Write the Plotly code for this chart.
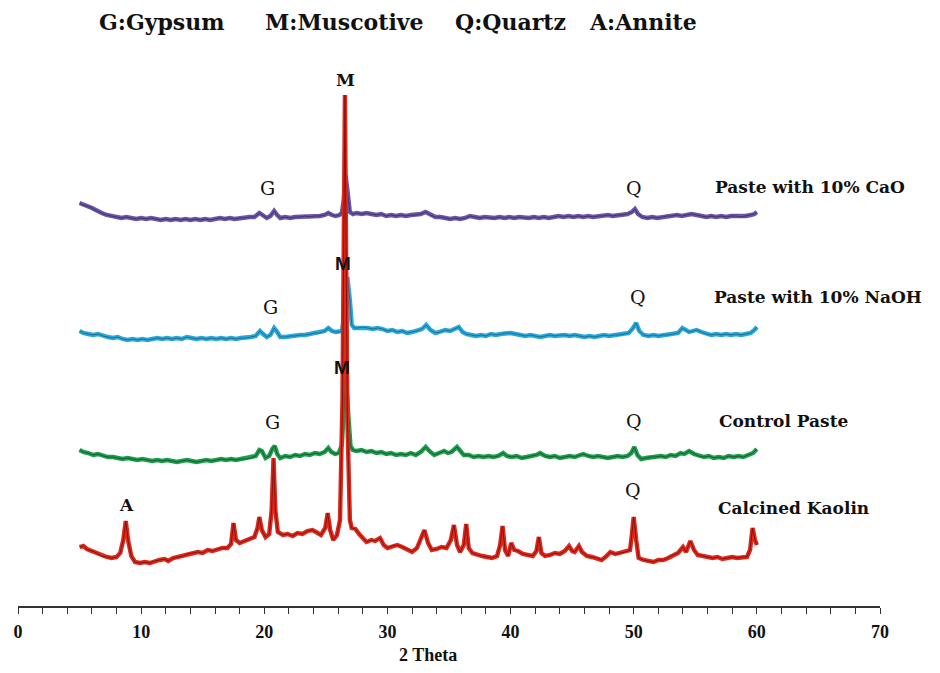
import plotly.graph_objects as go

# ---------------- data ----------------
two_theta_kaolin = [5.0, 5.3, 5.6, 6.0, 6.4, 6.8, 7.2, 7.6, 8.0, 8.3, 8.55, 8.75, 8.95, 9.2, 9.5, 9.9, 10.3, 10.7, 11.1, 11.5,
                    11.9, 12.2, 12.6, 13.0, 13.4, 13.8, 14.2, 14.6, 15.0, 15.4, 15.8, 16.2, 16.6, 17.0, 17.3, 17.5, 17.7, 18.0,
                    18.4, 18.8, 19.2, 19.45, 19.6, 19.8, 20.1, 20.4, 20.6, 20.75, 20.9, 21.1, 21.5, 21.9, 22.3, 22.7, 23.1,
                    23.5, 23.9, 24.2, 24.6, 24.95, 25.15, 25.35, 25.6, 25.9, 26.15, 26.35, 26.55, 26.75, 26.95, 27.1, 27.4,
                    27.7, 28.0, 28.3, 28.7, 29.0, 29.4, 29.7, 30.0, 30.4, 30.8, 31.2, 31.6, 32.0, 32.4, 32.75, 33.0, 33.3,
                    33.6, 34.0, 34.4, 34.8, 35.15, 35.4, 35.65, 35.9, 36.2, 36.4, 36.6, 36.9, 37.3, 37.7, 38.1, 38.5, 38.9,
                    39.15, 39.35, 39.55, 39.8, 40.05, 40.3, 40.6, 41.0, 41.4, 41.8, 42.1, 42.3, 42.5, 42.8, 43.2, 43.6, 44.0,
                    44.4, 44.75, 45.0, 45.2, 45.55, 45.8, 46.2, 46.6, 47.0, 47.4, 47.8, 48.1, 48.5, 48.9, 49.3, 49.7, 49.85,
                    50.0, 50.2, 50.4, 50.8, 51.2, 51.6, 52.0, 52.4, 52.8, 53.2, 53.6, 54.0, 54.25, 54.6, 54.9, 55.2, 55.6,
                    56.0, 56.4, 56.8, 57.2, 57.6, 58.0, 58.4, 58.8, 59.2, 59.45, 59.65, 59.85, 60.0]
intensity_kaolin = [59, 60, 57, 55, 53, 50, 49, 48, 49, 53, 66, 85, 65, 50, 44, 43, 44, 43, 45, 46,
                    47, 45, 48, 49, 50, 52, 53, 54, 53, 56, 55, 57, 58, 58, 62, 83, 66, 63,
                    65, 67, 69, 78, 89, 76, 69, 72, 96, 148, 96, 74, 71, 72, 70, 73, 72,
                    75, 76, 74, 71, 78, 93, 76, 66, 71, 86, 206, 511, 186, 86, 78, 77,
                    72, 68, 64, 66, 65, 68, 61, 58, 60, 61, 59, 57, 54, 58, 68, 76, 63,
                    56, 57, 59, 58, 66, 81, 61, 54, 61, 82, 58, 53, 51, 50, 49, 48, 50,
                    61, 80, 56, 50, 63, 56, 55, 52, 51, 50, 55, 69, 53, 50, 51, 53, 52,
                    55, 60, 55, 54, 60, 54, 50, 49, 48, 46, 50, 54, 52, 53, 54, 56, 71,
                    89, 66, 48, 46, 45, 44, 46, 46, 48, 51, 53, 59, 54, 65, 56, 51, 50,
                    49, 48, 49, 47, 48, 49, 48, 49, 49, 56, 78, 66, 61]

two_theta_control = [5.0, 5.3, 5.7, 6.1, 6.5, 6.9, 7.3, 7.7, 8.1, 8.5, 8.9, 9.3, 9.7, 10.1, 10.5, 10.9, 11.3, 11.7, 12.1, 12.5,
                     12.9, 13.3, 13.7, 14.1, 14.5, 14.9, 15.3, 15.7, 16.1, 16.5, 16.9, 17.3, 17.7, 18.1, 18.5, 18.9, 19.3,
                     19.6, 19.8, 20.1, 20.4, 20.65, 20.85, 21.05, 21.3, 21.7, 22.1, 22.5, 22.9, 23.3, 23.7, 24.1, 24.5,
                     24.9, 25.2, 25.45, 25.75, 26.05, 26.3, 26.45, 26.65, 26.85, 27.0, 27.2, 27.5, 27.9, 28.3, 28.7, 29.1,
                     29.5, 29.9, 30.3, 30.7, 31.1, 31.5, 31.9, 32.3, 32.7, 33.1, 33.4, 33.8, 34.2, 34.6, 34.9, 35.2, 35.65,
                     35.95, 36.2, 36.6, 37.0, 37.4, 37.8, 38.2, 38.6, 39.0, 39.4, 39.7, 40.1, 40.5, 40.9, 41.3, 41.7, 42.1,
                     42.4, 42.8, 43.2, 43.6, 44.0, 44.4, 44.8, 45.2, 45.6, 45.9, 46.3, 46.7, 47.1, 47.5, 47.9, 48.3, 48.7,
                     49.1, 49.5, 49.8, 50.05, 50.3, 50.6, 51.0, 51.4, 51.8, 52.2, 52.6, 53.0, 53.4, 53.8, 54.1, 54.5, 54.9,
                     55.3, 55.7, 56.1, 56.5, 56.9, 57.3, 57.7, 58.1, 58.5, 58.9, 59.3, 59.7, 60.0]
intensity_control = [156, 154, 153, 151, 152, 150, 149, 149, 148, 147, 148, 147, 146, 147, 146, 145, 146, 145, 146, 145,
                     144, 145, 146, 145, 144, 145, 146, 145, 146, 147, 146, 147, 146, 147, 147, 148, 150,
                     156, 155, 148, 150, 157, 160, 152, 148, 150, 149, 151, 150, 152, 151, 153, 152,
                     154, 158, 154, 152, 153, 161, 196, 226, 186, 160, 156, 155, 156, 154, 155, 153,
                     154, 152, 153, 151, 152, 151, 153, 151, 154, 159, 155, 151, 153, 155, 153, 154, 159,
                     154, 151, 151, 149, 150, 149, 150, 149, 150, 153, 150, 149, 150, 148, 149, 150, 151,
                     153, 150, 149, 150, 148, 149, 150, 149, 151, 152, 150, 149, 150, 149, 148, 149, 150,
                     149, 150, 153, 159, 151, 147, 148, 149, 149, 150, 149, 151, 150, 153, 152, 155, 152,
                     150, 149, 150, 148, 149, 148, 150, 149, 150, 149, 151, 153, 157]

two_theta_naoh = [5.0, 5.3, 5.7, 6.1, 6.5, 6.9, 7.3, 7.7, 8.1, 8.5, 8.9, 9.3, 9.7, 10.1, 10.5, 10.9, 11.3, 11.7, 12.1, 12.5,
                  12.9, 13.3, 13.7, 14.1, 14.5, 14.9, 15.3, 15.7, 16.1, 16.5, 16.9, 17.3, 17.7, 18.1, 18.5, 18.9, 19.3,
                  19.65, 19.9, 20.2, 20.5, 20.8, 21.0, 21.3, 21.7, 22.1, 22.5, 22.9, 23.3, 23.7, 24.1, 24.5, 24.9, 25.2,
                  25.5, 25.8, 26.1, 26.3, 26.45, 26.6, 26.75, 26.95, 27.1, 27.3, 27.6, 28.0, 28.4, 28.8, 29.2, 29.6, 30.0,
                  30.4, 30.8, 31.2, 31.6, 32.0, 32.4, 32.8, 33.15, 33.5, 33.9, 34.3, 34.7, 35.1, 35.45, 35.8, 36.1, 36.4,
                  36.8, 37.2, 37.6, 38.0, 38.4, 38.8, 39.2, 39.6, 40.0, 40.4, 40.8, 41.2, 41.6, 42.0, 42.4, 42.8, 43.2,
                  43.6, 44.0, 44.4, 44.8, 45.2, 45.6, 46.0, 46.4, 46.8, 47.2, 47.6, 48.0, 48.4, 48.8, 49.2, 49.6, 49.95,
                  50.2, 50.45, 50.8, 51.2, 51.6, 52.0, 52.4, 52.8, 53.2, 53.6, 53.95, 54.2, 54.5, 54.8, 55.1, 55.5, 55.9,
                  56.3, 56.7, 57.1, 57.5, 57.9, 58.3, 58.7, 59.1, 59.5, 59.8, 60.0]
intensity_naoh = [275, 273, 272, 271, 272, 270, 269, 268, 269, 267, 266, 267, 266, 267, 266, 267, 268, 267, 268, 267,
                  268, 267, 269, 268, 267, 268, 267, 268, 267, 268, 267, 268, 267, 268, 268, 269, 270,
                  275, 272, 269, 271, 278, 275, 269, 269, 270, 270, 271, 271, 272, 273, 273, 275, 278,
                  275, 274, 274, 275, 286, 316, 329, 306, 281, 278, 278, 279, 278, 277, 278, 277, 275,
                  276, 274, 275, 273, 274, 275, 277, 281, 276, 273, 274, 276, 275, 277, 279, 274, 272,
                  271, 270, 271, 270, 272, 271, 272, 273, 273, 272, 271, 270, 271, 270, 269, 270, 271,
                  270, 271, 271, 270, 271, 270, 269, 270, 269, 270, 271, 270, 271, 271, 272, 273, 278,
                  283, 275, 271, 270, 271, 270, 271, 271, 272, 273, 278, 276, 274, 275, 276, 274, 272,
                  271, 272, 271, 272, 271, 272, 271, 272, 273, 276, 279]

two_theta_cao = [5.0, 5.3, 5.6, 6.0, 6.4, 6.8, 7.2, 7.6, 8.0, 8.4, 8.8, 9.2, 9.6, 10.0, 10.4, 10.8, 11.2, 11.6, 12.0, 12.4,
                 12.8, 13.2, 13.6, 14.0, 14.4, 14.8, 15.2, 15.6, 16.0, 16.4, 16.8, 17.2, 17.6, 18.0, 18.4, 18.8, 19.2,
                 19.6, 19.85, 20.2, 20.5, 20.8, 21.05, 21.3, 21.7, 22.1, 22.5, 22.9, 23.3, 23.7, 24.1, 24.5, 24.9, 25.2,
                 25.5, 25.8, 26.1, 26.3, 26.45, 26.6, 26.75, 26.95, 27.2, 27.5, 27.9, 28.3, 28.7, 29.1, 29.5, 29.9, 30.3,
                 30.7, 31.1, 31.5, 31.9, 32.3, 32.7, 33.1, 33.5, 33.9, 34.3, 34.7, 35.1, 35.5, 35.9, 36.3, 36.7, 37.1,
                 37.5, 37.9, 38.3, 38.7, 39.1, 39.5, 39.9, 40.3, 40.7, 41.1, 41.5, 41.9, 42.3, 42.7, 43.1, 43.5, 43.9,
                 44.3, 44.7, 45.1, 45.5, 45.9, 46.3, 46.7, 47.1, 47.5, 47.9, 48.3, 48.7, 49.1, 49.5, 49.85, 50.1, 50.35,
                 50.7, 51.1, 51.5, 51.9, 52.3, 52.7, 53.1, 53.5, 53.9, 54.3, 54.7, 55.1, 55.5, 55.9, 56.3, 56.7, 57.1,
                 57.5, 57.9, 58.3, 58.7, 59.1, 59.5, 59.8, 60.0]
intensity_cao = [403, 401, 400, 398, 395, 393, 391, 390, 389, 388, 389, 388, 387, 388, 387, 388, 387, 386, 387, 386,
                 387, 386, 387, 386, 387, 386, 387, 386, 387, 388, 387, 388, 387, 388, 388, 389, 389,
                 393, 391, 388, 390, 395, 391, 388, 389, 388, 389, 389, 390, 389, 390, 390, 391, 393,
                 391, 390, 391, 393, 406, 431, 416, 394, 392, 393, 392, 393, 392, 391, 392, 390, 391,
                 390, 391, 390, 391, 391, 392, 394, 391, 389, 389, 388, 387, 388, 387, 388, 390, 389,
                 388, 389, 388, 388, 389, 388, 389, 388, 389, 388, 388, 389, 388, 389, 388, 389, 390,
                 389, 390, 389, 390, 389, 390, 389, 390, 390, 391, 390, 391, 391, 392, 394, 397, 392,
                 389, 388, 389, 388, 389, 390, 390, 391, 390, 391, 392, 391, 390, 389, 390, 389, 390,
                 389, 390, 390, 389, 390, 391, 392, 394]

series_names = ["Paste with 10% CaO", "Paste with 10% NaOH", "Control Paste", "Calcined Kaolin"]
legend_text = ["G:Gypsum", "M:Muscotive", "Q:Quartz", "A:Annite"]
x_tick_values = [0, 10, 20, 30, 40, 50, 60, 70]

# ---------------- layout helpers (screen pixels -> paper) ----------------
PX0, PX1, PY0, PY1 = 18, 880, 60, 606   # plot area in page pixels


def px_x(sx):
    return (sx - PX0) / (PX1 - PX0)


def px_y(sy):
    return (PY1 - sy) / (PY1 - PY0)


fig = go.Figure()

styles = [
    (two_theta_cao, intensity_cao, "#6a55a6", "#45316f"),
    (two_theta_naoh, intensity_naoh, "#2aa8da", "#1d6f93"),
    (two_theta_control, intensity_control, "#1f9d4d", "#0f5f30"),
    (two_theta_kaolin, intensity_kaolin, "#dd2a1d", "#8c0f0a"),
]
for (xs, ys, light, dark), name in zip(styles, series_names):
    fig.add_trace(go.Scatter(x=xs, y=ys, mode="lines", name=name,
                             line=dict(color=light, width=4.4), showlegend=False, hoverinfo="skip"))
    fig.add_trace(go.Scatter(x=xs, y=ys, mode="lines", name=name,
                             line=dict(color=dark, width=1.0), showlegend=False))

SERIF = "DejaVu Serif"
TSERIF = "Liberation Serif"

# series labels
label_pos = [(713, 187), (712, 297), (717, 421), (716, 508)]
for (sx, sy), name in zip(label_pos, series_names):
    fig.add_annotation(x=px_x(sx), y=px_y(sy), xref="paper", yref="paper", text="<b>" + name + "</b>",
                       showarrow=False, xanchor="left", yanchor="middle",
                       font=dict(family=SERIF, size=17, color="#111111"))

# peak labels (screen pixel centres)
peak_labels = [
    ("M", 345, 80, SERIF, True, 17),
    ("G", 267, 188, SERIF, False, 19),
    ("Q", 634, 188, SERIF, False, 19),
    ("M", 343, 263, "Liberation Sans", True, 19),
    ("G", 270, 307, SERIF, False, 19),
    ("Q", 638, 297, SERIF, False, 19),
    ("M", 342, 367, "Liberation Sans", True, 19),
    ("G", 272, 422, SERIF, False, 19),
    ("Q", 634, 421, SERIF, False, 19),
    ("A", 126, 505, SERIF, True, 17),
    ("Q", 633, 490, SERIF, False, 19),
]
for txt, sx, sy, fam, b, size in peak_labels:
    fig.add_annotation(x=px_x(sx), y=px_y(sy), xref="paper", yref="paper",
                       text=("<b>%s</b>" % txt) if b else txt,
                       showarrow=False, xanchor="center", yanchor="middle",
                       font=dict(family=fam, size=size, color="#111111"))

# top legend text
legend_x = [97, 263, 453, 587]
for sx, txt in zip(legend_x, legend_text):
    fig.add_annotation(x=px_x(sx), y=px_y(22), xref="paper", yref="paper", text="<b>" + txt + "</b>",
                       showarrow=False, xanchor="left", yanchor="middle",
                       font=dict(family=SERIF, size=22, color="#111111"))

# x axis title
fig.add_annotation(x=px_x(428), y=px_y(655), xref="paper", yref="paper", text="<b>2 Theta</b>",
                   showarrow=False, xanchor="center", yanchor="middle",
                   font=dict(family=TSERIF, size=18, color="#111111"))

# page has an 8px body margin; figure sized to fit inside the 940x673 window
OFF = 8
W, H = 940 - 2 * OFF, 673 - 2 * OFF
fig.update_layout(
    width=W, height=H,
    margin=dict(l=PX0 - OFF, r=W - (PX1 - OFF), t=PY0 - OFF, b=H - (PY1 - OFF), autoexpand=False),
    plot_bgcolor="white", paper_bgcolor="white",
    xaxis=dict(range=[0, 70], showgrid=False, zeroline=False, showline=True, linecolor="#333333", linewidth=2,
               ticks="outside", ticklen=6, tickwidth=1.2, tickcolor="#333333",
               tickvals=x_tick_values, ticktext=["<b>%d</b>" % v for v in x_tick_values],
               tickfont=dict(family=TSERIF, size=18, color="#111111"), ticklabelstandoff=2,
               minor=dict(dtick=2, ticks="outside", ticklen=6, tickwidth=1.2, tickcolor="#333333")),
    yaxis=dict(range=[0, 546], visible=False, showgrid=False, zeroline=False),
)

fig.write_html("out.html")
